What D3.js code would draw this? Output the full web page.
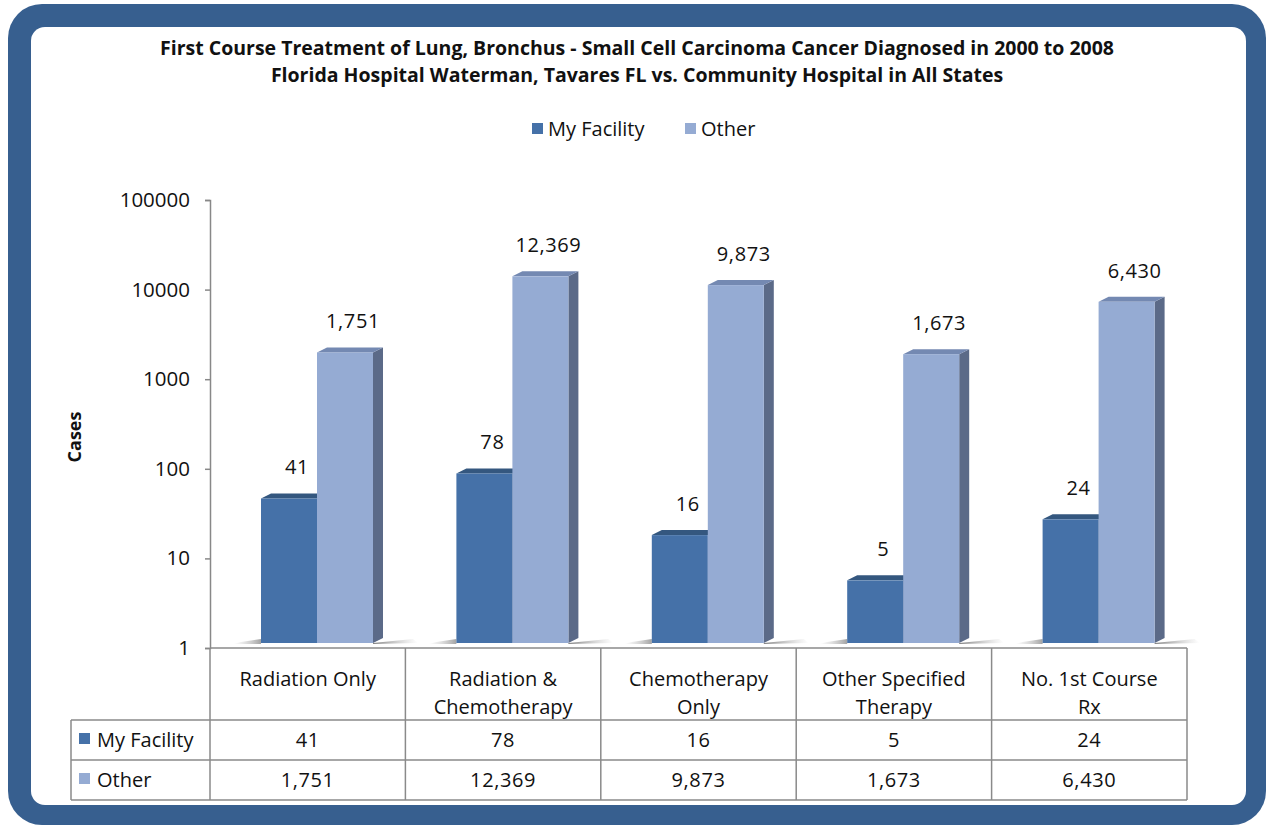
<!DOCTYPE html>
<html>
<head>
<meta charset="utf-8">
<script src="https://cdn.jsdelivr.net/npm/d3@7"></script>
<style>
  html, body { margin: 0; padding: 0; background: #fff; }
  text { font-family: "Open Sans", "Noto Sans", sans-serif; fill: #111; }
</style>
</head>
<body>
<div id="vis"></div>
<script>
// chart values
var categories = [
    ["Radiation Only"],
    ["Radiation &", "Chemotherapy"],
    ["Chemotherapy", "Only"],
    ["Other Specified", "Therapy"],
    ["No. 1st Course", "Rx"]
];
var seriesNames = ["My Facility", "Other"];
var myFacility = [41, 78, 16, 5, 24];
var other = [1751, 12369, 9873, 1673, 6430];
var yTicks = [1, 10, 100, 1000, 10000, 100000];
var titleLines = [
    "First Course Treatment of Lung, Bronchus - Small Cell Carcinoma Cancer Diagnosed in 2000 to 2008",
    "Florida Hospital Waterman, Tavares FL vs. Community Hospital in All States"
];

var width = 1270, height = 827;
var colors = {
    front: ["#4571a8", "#95abd3"],
    top: ["#34577f", "#7489b2"],
    side: ["#30527a", "#5b6a88"]
};
var depth = {dx: 10, dy: -5};
var barW = 56;
var fmt = d3.format(",");
var bodySize = '20px';

var svg = d3.select('#vis').append('svg')
    .attr('width', width)
    .attr('height', height);

var defs = svg.append('defs');
var gr = defs.append('linearGradient').attr('id', 'shadowR')
    .attr('x1', 0).attr('x2', 1).attr('y1', 0).attr('y2', 0);
gr.append('stop').attr('offset', 0).attr('stop-color', '#555').attr('stop-opacity', 0.75);
gr.append('stop').attr('offset', 1).attr('stop-color', '#999').attr('stop-opacity', 0);
var gl = defs.append('linearGradient').attr('id', 'shadowL')
    .attr('x1', 1).attr('x2', 0).attr('y1', 0).attr('y2', 0);
gl.append('stop').attr('offset', 0).attr('stop-color', '#666').attr('stop-opacity', 0.6);
gl.append('stop').attr('offset', 1).attr('stop-color', '#aaa').attr('stop-opacity', 0);

// frame
svg.append('rect')
    .attr('x', 8).attr('y', 4)
    .attr('width', 1258).attr('height', 821)
    .attr('rx', 34)
    .attr('fill', '#375f8f');
svg.append('rect')
    .attr('x', 31).attr('y', 27)
    .attr('width', 1215).attr('height', 778)
    .attr('rx', 14)
    .attr('fill', '#fff');

// title
svg.selectAll('.title')
    .data(titleLines)
    .enter().append('text')
    .attr('class', 'title')
    .attr('x', 637)
    .attr('y', function (d, i) { return 55 + i * 27; })
    .attr('text-anchor', 'middle')
    .style('font-weight', 'bold')
    .style('font-size', '19.5px')
    .text(function (d) { return d; });

// legend
var legend = svg.append('g').attr('class', 'legend');
var legendX = [532, 685];
seriesNames.forEach(function (name, i) {
    legend.append('rect')
        .attr('x', legendX[i]).attr('y', 123)
        .attr('width', 11).attr('height', 11)
        .attr('fill', colors.front[i]);
    legend.append('text')
        .attr('x', legendX[i] + 16).attr('y', 136)
        .style('font-size', bodySize)
        .text(name);
});

// scales
var keys = categories.map(function (d, i) { return i; });
var x = d3.scaleBand().domain(keys).range([210, 1187]);
var y = d3.scaleLog().domain([1, 100000]).range([648, 200]);

// y axis
var yAxis = d3.axisLeft(y)
    .tickValues(yTicks)
    .tickFormat(d3.format('d'))
    .tickSize(5)
    .tickPadding(15);
var ax = svg.append('g')
    .attr('transform', 'translate(210,0)')
    .call(yAxis);
ax.select('.domain').attr('stroke', '#888').attr('stroke-width', 1.5);
ax.selectAll('.tick line').attr('stroke', '#888').attr('stroke-width', 1.5);
ax.selectAll('.tick text')
    .style('font-size', '20.5px')
    .style('font-family', '"Open Sans", sans-serif')
    .attr('fill', '#111');

svg.append('text')
    .attr('transform', 'translate(81,437) rotate(-90)')
    .attr('text-anchor', 'middle')
    .style('font-weight', 'bold')
    .style('font-size', '18px')
    .text('Cases');

// bars
var floorY = y(1) - 5;
var series = [myFacility, other];
var bars = svg.append('g').attr('class', 'bars');

keys.forEach(function (k) {
    var x0 = x(k) + 51;
    var x1 = x0 + 2 * barW;
    bars.append('polygon')
        .attr('points', [[x1, floorY], [x1 + 40, floorY - 4], [x1 + 45, floorY], [x1, floorY + 1]].join(' '))
        .attr('fill', 'url(#shadowR)');
    bars.append('polygon')
        .attr('points', [[x0, floorY - 4], [x0, floorY + 1], [x0 - 28, floorY + 1], [x0 - 20, floorY - 1]].join(' '))
        .attr('fill', 'url(#shadowL)');
});

series.forEach(function (vals, s) {
    var g = bars.append('g');
    vals.forEach(function (v, i) {
        var bx = x(i) + 51 + s * barW;
        var top = y(v) - 5;
        g.append('polygon')
            .attr('points', [[bx + barW, top], [bx + barW + depth.dx, top + depth.dy],
                [bx + barW + depth.dx, floorY + depth.dy], [bx + barW, floorY]].join(' '))
            .attr('fill', colors.side[s]);
        g.append('polygon')
            .attr('points', [[bx, top], [bx + depth.dx, top + depth.dy],
                [bx + barW + depth.dx, top + depth.dy], [bx + barW, top]].join(' '))
            .attr('fill', colors.top[s]);
        g.append('rect')
            .attr('x', bx).attr('y', top)
            .attr('width', barW).attr('height', floorY - top)
            .attr('fill', colors.front[s]);
        g.append('text')
            .attr('x', bx + barW / 2 + 8)
            .attr('y', top - 24)
            .attr('text-anchor', 'middle')
            .style('font-size', bodySize)
            .style('letter-spacing', '0.6px')
            .text(fmt(v));
    });
});

// data table
var table = svg.append('g').attr('class', 'table');
var lineColor = '#8a8a8a';
var rowTop = [720, 760];
var tableBottom = 800;

function hline(x1, x2, yy) {
    table.append('line').attr('x1', x1).attr('x2', x2).attr('y1', yy).attr('y2', yy)
        .attr('stroke', lineColor).attr('stroke-width', 1.5);
}
function vline(xx, y1, y2) {
    table.append('line').attr('x1', xx).attr('x2', xx).attr('y1', y1).attr('y2', y2)
        .attr('stroke', lineColor).attr('stroke-width', 1.5);
}

hline(210, 1187, 648);
rowTop.forEach(function (r) { hline(71, 1187, r); });
hline(71, 1187, tableBottom);
vline(71, rowTop[0], tableBottom);
keys.forEach(function (k) { vline(x(k), 648, tableBottom); });
vline(1187, 648, tableBottom);

categories.forEach(function (lines, i) {
    var t = table.append('text')
        .attr('x', x(i) + x.bandwidth() / 2)
        .attr('y', 686)
        .attr('text-anchor', 'middle')
        .style('font-size', bodySize);
    lines.forEach(function (ln, j) {
        t.append('tspan')
            .attr('x', x(i) + x.bandwidth() / 2)
            .attr('dy', j === 0 ? 0 : 28)
            .text(ln);
    });
});

seriesNames.forEach(function (name, s) {
    table.append('rect')
        .attr('x', 79).attr('y', rowTop[s] + 13)
        .attr('width', 11).attr('height', 11)
        .attr('fill', colors.front[s]);
    table.append('text')
        .attr('x', 97).attr('y', rowTop[s] + 27)
        .style('font-size', bodySize)
        .text(name);
    series[s].forEach(function (v, i) {
        table.append('text')
            .attr('x', x(i) + x.bandwidth() / 2)
            .attr('y', rowTop[s] + 27)
            .attr('text-anchor', 'middle')
            .style('font-size', bodySize)
            .style('letter-spacing', '0.6px')
            .text(fmt(v));
    });
});
</script>
</body>
</html>
